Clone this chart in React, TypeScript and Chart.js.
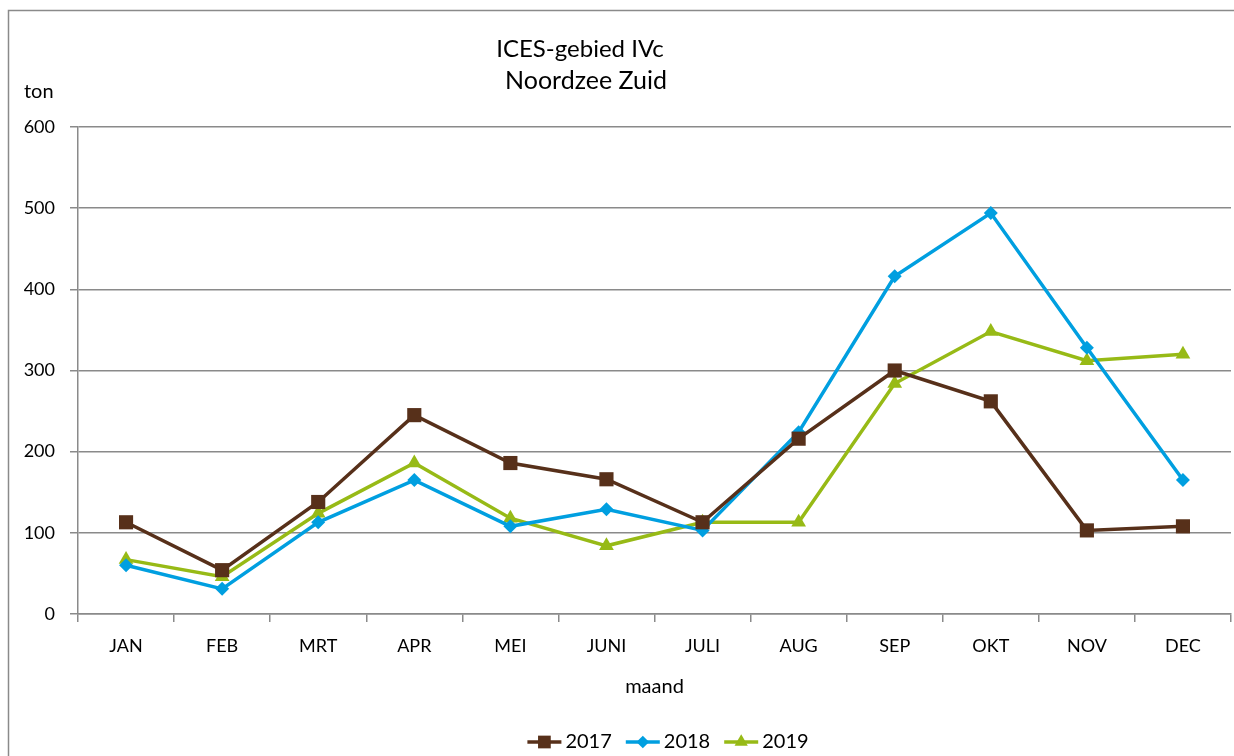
import React, { useEffect, useRef } from "react";
import { Chart, registerables } from "chart.js";

Chart.register(...registerables);

const months = ["JAN", "FEB", "MRT", "APR", "MEI", "JUNI", "JULI", "AUG", "SEP", "OKT", "NOV", "DEC"];
const values2017 = [113, 54, 138, 245, 186, 166, 113, 216, 300, 262, 103, 108];
const values2018 = [60, 31, 113, 165, 108, 129, 103, 224, 416, 494, 328, 165];
const values2019 = [67, 46, 124, 186, 118, 84, 113, 113, 284, 348, 312, 320];
const seriesLabels = ["2017", "2018", "2019"];
const titleLines = ["ICES-gebied IVc", "Noordzee Zuid"];
const yTitle = "ton";
const xTitle = "maand";

const FONT = "Lato, 'Open Sans', sans-serif";
const GRID = "#8a8a8a";
const colors = ["#57301a", "#009fe0", "#97ba16"];
const styles = ["rect", "rectRot", "triangle"];
const radii = [10, 7, 8.5];

function drawMarker(ctx: CanvasRenderingContext2D, style: string, x: number, y: number, r: number) {
  ctx.beginPath();
  if (style === "rect") {
    const s = Math.SQRT1_2 * r;
    ctx.rect(x - s, y - s, 2 * s, 2 * s);
  } else if (style === "rectRot") {
    ctx.moveTo(x, y - r);
    ctx.lineTo(x + r, y);
    ctx.lineTo(x, y + r);
    ctx.lineTo(x - r, y);
    ctx.closePath();
  } else {
    ctx.moveTo(x, y - r);
    ctx.lineTo(x + r * Math.sin((2 * Math.PI) / 3), y - r * Math.cos((2 * Math.PI) / 3));
    ctx.lineTo(x + r * Math.sin((4 * Math.PI) / 3), y - r * Math.cos((4 * Math.PI) / 3));
    ctx.closePath();
  }
  ctx.fill();
}

const noOverflowPlugin = {
  id: "noOverflow",
  beforeElementsUpdate(chart: any) {
    chart.data.datasets.forEach((_: any, i: number) => {
      const meta = chart.getDatasetMeta(i);
      if (meta && meta.controller) meta.controller.getMaxOverflow = () => 0;
    });
  },
};

const decorPlugin = {
  id: "decor",
  beforeDraw(chart: any) {
    const ctx = chart.ctx as CanvasRenderingContext2D;
    ctx.save();
    ctx.strokeStyle = GRID;
    ctx.lineWidth = 1.5;
    ctx.beginPath();
    ctx.moveTo(8.5, 760);
    ctx.lineTo(8.5, 10.5);
    ctx.lineTo(1240, 10.5);
    ctx.stroke();
    ctx.restore();
  },
  afterDraw(chart: any) {
    const ctx = chart.ctx as CanvasRenderingContext2D;
    ctx.save();
    ctx.fillStyle = "#000";
    ctx.textBaseline = "middle";
    ctx.textAlign = "center";
    ctx.font = `24px ${FONT}`;
    ctx.fillText(titleLines[0], 580, 49);
    ctx.font = `25px ${FONT}`;
    ctx.fillText(titleLines[1], 586, 81);
    ctx.textAlign = "left";
    ctx.font = `20px ${FONT}`;
    ctx.fillText(yTitle, 24, 92);

    // legend
    ctx.font = `20px ${FONT}`;
    const lineLen = 34;
    const gapText = 4;
    const gapItem = 14;
    const widths = seriesLabels.map((l) => ctx.measureText(l).width);
    const total = widths.reduce((acc, w) => acc + w + lineLen + gapText, 0) + gapItem * (seriesLabels.length - 1);
    let x = 668 - total / 2;
    const y = 742;
    seriesLabels.forEach((label, i) => {
      ctx.strokeStyle = colors[i];
      ctx.fillStyle = colors[i];
      ctx.lineWidth = 3.5;
      ctx.beginPath();
      ctx.moveTo(x, y);
      ctx.lineTo(x + lineLen, y);
      ctx.stroke();
      drawMarker(ctx, styles[i], x + lineLen / 2, y, radii[i] * 0.9);
      ctx.fillStyle = "#000";
      ctx.fillText(label, x + lineLen + gapText, y);
      x += lineLen + gapText + widths[i] + gapItem;
    });
    ctx.restore();
  },
};

export default function App() {
  const ref = useRef<HTMLCanvasElement>(null);
  useEffect(() => {
    if (!ref.current) return;
    const data = [values2017, values2018, values2019];
    const chart = new Chart(ref.current, {
      type: "line",
      data: {
        labels: months,
        datasets: data.map((d, i) => ({
          label: seriesLabels[i],
          data: d,
          borderColor: colors[i],
          backgroundColor: colors[i],
          borderWidth: 3.5,
          pointStyle: styles[i] as any,
          pointRadius: radii[i],
          pointHoverRadius: radii[i],
          pointBorderWidth: 0,
          pointBackgroundColor: colors[i],
          tension: 0,
          clip: false as any,
        })),
      },
      options: {
        animation: false,
        responsive: false,
        devicePixelRatio: 1,
        layout: { padding: { top: 127, right: 3, left: 0, bottom: 0 } },
        plugins: {
          legend: { display: false },
          title: { display: false },
          tooltip: { enabled: false },
        },
        scales: {
          x: {
            type: "category",
            offset: true,
            grid: {
              offset: true,
              drawOnChartArea: false,
              drawTicks: true,
              tickLength: 8,
              color: GRID,
              lineWidth: 1.5,
            },
            border: { color: GRID, width: 1.5 },
            ticks: { color: "#000", font: { family: FONT, size: 18 }, padding: 13, maxRotation: 0 },
            title: {
              display: true,
              text: xTitle,
              color: "#000",
              font: { family: FONT, size: 20 },
              padding: { top: 0, bottom: 57 },
            },
            afterFit: (s: any) => {
              s.height = 142;
              s.paddingLeft = 0;
              s.paddingRight = 0;
            },
          },
          y: {
            min: 0,
            max: 600,
            ticks: { stepSize: 100, color: "#000", font: { family: FONT, size: 18 }, padding: 15 },
            grid: { color: GRID, lineWidth: 1.5, tickLength: 8 },
            border: { color: GRID, width: 1.5 },
            afterFit: (s: any) => {
              s.width = 78;
              s.paddingTop = 0;
              s.paddingBottom = 0;
            },
          },
        },
      },
      plugins: [noOverflowPlugin, decorPlugin],
    });
    return () => chart.destroy();
  }, []);
  return (
    <div style={{ position: "absolute", left: 0, top: 0, width: 1234, height: 756, background: "#fff" }}>
      <canvas ref={ref} width={1234} height={756} style={{ width: 1234, height: 756, display: "block" }} />
    </div>
  );
}
